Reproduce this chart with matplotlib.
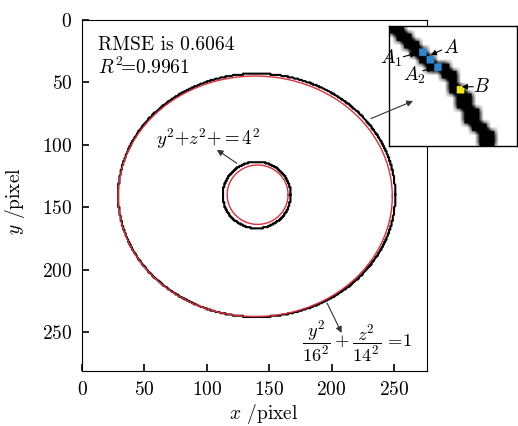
import numpy as np
import matplotlib
matplotlib.use("Agg")
import matplotlib.pyplot as plt

plt.rcParams['font.family'] = 'cmr10'
plt.rcParams['mathtext.fontset'] = 'cm'
plt.rcParams['axes.formatter.use_mathtext'] = True

# ellipses: centre x, centre y, semi-axis x, semi-axis y (pixel units)
outer_contour = [140.0, 140.5, 111.0, 97.5]
outer_fit = [138.8, 141.3, 109.8, 96.4]
inner_contour = [140.0, 140.3, 27.2, 26.6]
inner_fit = [140.7, 140.0, 24.4, 23.8]

x_ticks = [0, 50, 100, 150, 200, 250]
y_ticks = [0, 50, 100, 150, 200, 250]

rmse = 0.6064
r2 = 0.9961

# zoomed detail of the contour: first black column and width for each row
band_start = [0, 1, 2, 3, 4, 5, 7, 8, 8, 9, 9, 10, 10, 11, 12, 12]
band_width = [2, 2, 2, 2, 2, 3, 2, 1, 2, 2, 2, 2, 2, 2, 2, 2]
blue_cells = [(3, 4), (4, 5), (5, 6)]   # (row, col)
yellow_cells = [(8, 9)]
n_rows, n_cols = 16, 17


def ellipse(p, n=1500):
    t = np.linspace(0, 2 * np.pi, n)
    return p[0] + p[2] * np.cos(t), p[1] + p[3] * np.sin(t)


fig = plt.figure(figsize=(5.18, 4.26), dpi=100)
ax = fig.add_axes([82 / 518, 55 / 426, 345 / 518, 351 / 426])

# detected contours are pixelated -> snap to the pixel grid
for p in (outer_contour, inner_contour):
    x, y = ellipse(p)
    ax.plot(np.round(x), np.round(y), color='black', lw=1.5)
for p in (outer_fit, inner_fit):
    x, y = ellipse(p)
    ax.plot(x, y, color='#dc2f3c', lw=1.0)

ax.set_xlim(0, 276.4)
ax.set_ylim(281.3, 0)
ax.set_xticks(x_ticks)
ax.set_yticks(y_ticks)
ax.tick_params(direction='in', length=5, width=1.2, labelsize=14, pad=7)
ax.set_xlabel(r'$x$ /pixel', fontsize=14)
ax.set_ylabel(r'$y$ /pixel', fontsize=14)
ax.xaxis.set_label_coords(0.526, -0.088)
ax.yaxis.set_label_coords(-0.159, 0.484)

ax.text(12.8, 24, 'RMSE is {:.4f}'.format(rmse), fontsize=14, va='baseline')
ax.text(12.8, 43.3, r'$R^2\!$=' + '{:.4f}'.format(r2), fontsize=14, va='baseline')

arrow = dict(arrowstyle='-|>', lw=0.8, color='#333333', mutation_scale=9,
             shrinkA=0, shrinkB=0)
ax.annotate('', xy=(108, 104), xytext=(124, 114.8), arrowprops=arrow)
ax.text(101, 94.6, r'$y^2{+}z^2{+}{=}4^2$', fontsize=13.5, ha='center', va='center')
ax.annotate('', xy=(208, 250.8), xytext=(196.3, 226.8), arrowprops=arrow)
ax.text(220.4, 257.2, r'$\dfrac{y^2}{16^2}+\dfrac{z^2}{14^2}\,=\!1$', fontsize=13.3,
        ha='center', va='center')

# inset: zoomed pixels of the contour
blue = np.array([0.18, 0.53, 0.82])
yellow = np.array([0.96, 0.90, 0.09])
img = np.ones((n_rows, n_cols, 3))
for r, (c0, w) in enumerate(zip(band_start, band_width)):
    img[r, c0:c0 + w] = 0.0
for r, c in blue_cells:
    img[r, c] = blue
for r, c in yellow_cells:
    img[r, c] = yellow

# upsample, then add a soft grey halo around the marked pixels
k = 6
up = np.kron(img, np.ones((k, k, 1)))
mask = (up.min(axis=2) < 0.99).astype(float)
h = 3
pad = np.pad(mask, h, mode='constant')
H, W = mask.shape
halo = sum(pad[i:i + H, j:j + W] for i in range(2 * h + 1)
           for j in range(2 * h + 1)) / (2 * h + 1) ** 2
shade = 1.0 - 1.6 * halo
shade = np.clip(shade, 0.0, 1.0)
soft = np.where(mask[..., None] > 0, up, shade[..., None] * np.ones(3))

ax_in = fig.add_axes([389 / 518, 280 / 426, 127.5 / 518, 120 / 426])
ax_in.imshow(soft, extent=(-0.5, n_cols - 0.5, n_rows - 0.5, -0.5),
             interpolation='bilinear', aspect='auto')
ax_in.set_xlim(-0.5, n_cols - 0.5)
ax_in.set_ylim(n_rows - 0.5, -0.5)
ax_in.set_xticks([])
ax_in.set_yticks([])
for s in ax_in.spines.values():
    s.set_linewidth(1.0)

small = dict(arrowstyle='-|>', lw=0.8, color='black', mutation_scale=8,
             shrinkA=0, shrinkB=0)
ax_in.text(-0.14, 3.77, r'$A_1$', fontsize=14, ha='center', va='center')
ax_in.annotate('', xy=(3.1, 3.14), xytext=(1.41, 3.6), arrowprops=small)
ax_in.text(7.77, 2.47, r'$A$', fontsize=14, ha='center', va='center')
ax_in.annotate('', xy=(5.06, 3.37), xytext=(6.53, 2.7), arrowprops=small)
ax_in.text(2.83, 6.03, r'$A_2$', fontsize=14, ha='center', va='center')
ax_in.annotate('', xy=(5.4, 5.14), xytext=(4.0, 5.46), arrowprops=small)
ax_in.text(11.77, 7.7, r'$B$', fontsize=14, ha='center', va='center')
ax_in.annotate('', xy=(9.2, 7.6), xytext=(10.74, 7.6), arrowprops=small)

# leader from the outer contour to the zoomed window
ax_in.annotate('', xy=(2.7, 9.5), xytext=(231.5, 79), textcoords=ax.transData,
               arrowprops=arrow, annotation_clip=False)

fig.savefig('out.png', dpi=100)
